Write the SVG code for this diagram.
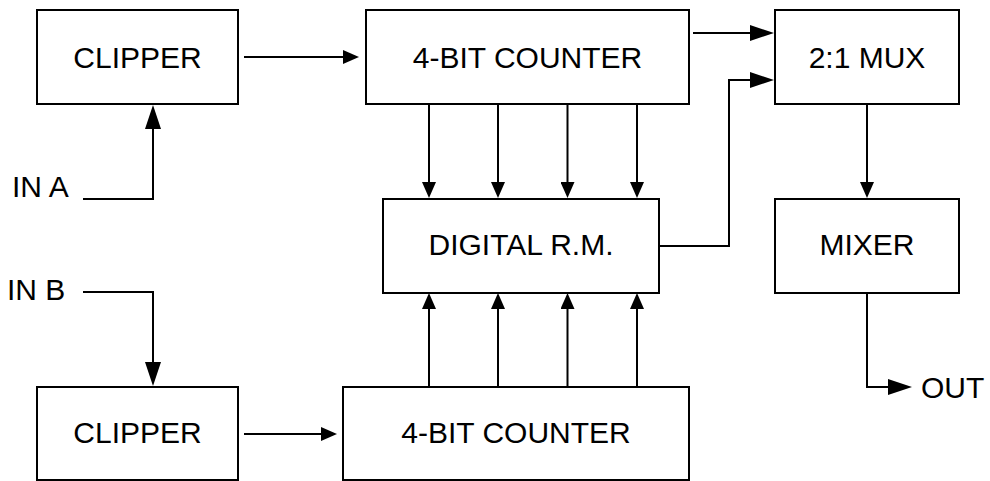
<svg xmlns="http://www.w3.org/2000/svg" width="990" height="481" viewBox="0 0 990 481">
<style>
.box{fill:#fff;stroke:#000;stroke-width:2}
.lbl{font-family:"Liberation Sans",Arial,sans-serif;font-size:30px;fill:#000}
.c{text-anchor:middle}
.w{fill:none;stroke:#000;stroke-width:2}
</style>
<defs>
<marker id="s" markerUnits="userSpaceOnUse" viewBox="0 0 16 14" markerWidth="16" markerHeight="14" refX="10" refY="7" orient="auto">
<path d="M0,0 L16,7 L0,14 z" fill="#000"/>
</marker>
<marker id="l" markerUnits="userSpaceOnUse" viewBox="0 0 24 16" markerWidth="24" markerHeight="16" refX="18" refY="8" orient="auto">
<path d="M0,0 L24,8 L0,16 z" fill="#000"/>
</marker>
</defs>
<rect width="990" height="481" fill="#fff"/>
<g id="connectors" class="w">
<path d="M244,57 H353" marker-end="url(#s)"/>
<path d="M83,199 H153 V111" marker-end="url(#l)"/>
<path d="M429,104 V192" marker-end="url(#s)"/>
<path d="M498,104 V192" marker-end="url(#s)"/>
<path d="M567.5,104 V192" marker-end="url(#s)"/>
<path d="M637,104 V192" marker-end="url(#s)"/>
<path d="M693,33 H768" marker-end="url(#l)"/>
<path d="M659,246 H729 V80 H768" marker-end="url(#l)"/>
<path d="M867,104 V192" marker-end="url(#s)"/>
<path d="M867,293 V387 H906" marker-end="url(#l)"/>
<path d="M83,292 H153 V380" marker-end="url(#l)"/>
<path d="M244,434 H331" marker-end="url(#s)"/>
<path d="M429,387 V299" marker-end="url(#s)"/>
<path d="M498,387 V299" marker-end="url(#s)"/>
<path d="M567.5,387 V299" marker-end="url(#s)"/>
<path d="M637,387 V299" marker-end="url(#s)"/>
</g>
<g id="clipperA"><rect class="box" x="37" y="10" width="201" height="94"/><text class="lbl c" x="137.5" y="67.5">CLIPPER</text></g>
<g id="counterA"><rect class="box" x="366" y="10" width="323" height="94"/><text class="lbl c" x="527.5" y="67.5">4-BIT COUNTER</text></g>
<g id="mux"><rect class="box" x="775" y="10" width="184" height="94"/><text class="lbl c" x="867" y="67.5">2:1 MUX</text></g>
<g id="rm"><rect class="box" x="383" y="199" width="276" height="94"/><text class="lbl c" x="521" y="254.5">DIGITAL R.M.</text></g>
<g id="mixer"><rect class="box" x="775" y="199" width="184" height="94"/><text class="lbl c" x="867" y="254.5">MIXER</text></g>
<g id="clipperB"><rect class="box" x="37" y="387" width="201" height="93"/><text class="lbl c" x="137.5" y="442.5">CLIPPER</text></g>
<g id="counterB"><rect class="box" x="343" y="387" width="346" height="93"/><text class="lbl c" x="516" y="442.5">4-BIT COUNTER</text></g>
<g id="inA"><text class="lbl" x="12" y="197">IN A</text></g>
<g id="inB"><text class="lbl" x="7" y="300">IN B</text></g>
<g id="out"><text class="lbl" x="921" y="398">OUT</text></g>
</svg>
